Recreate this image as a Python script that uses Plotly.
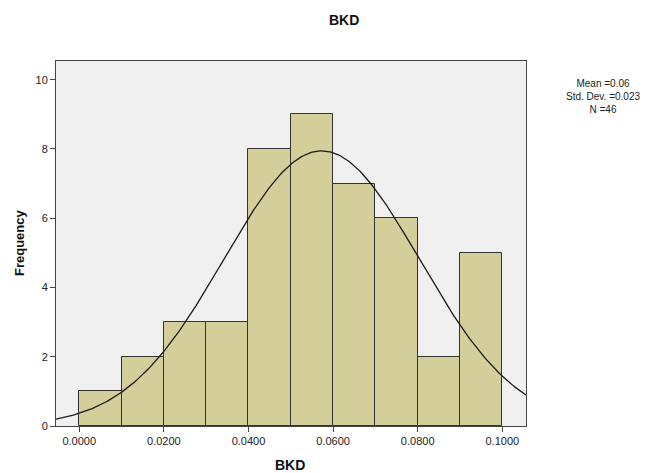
import numpy as np
import plotly.graph_objects as go

bin_starts = [0.00, 0.01, 0.02, 0.03, 0.04, 0.05, 0.06, 0.07, 0.08, 0.09]
bin_width = 0.01
counts = [1, 2, 3, 3, 8, 9, 7, 6, 2, 5]
mean_val = 0.0573
std_val = 0.0231
n_val = 46
x_ticks = [0.0, 0.02, 0.04, 0.06, 0.08, 0.10]
x_tick_labels = ["0.0000", "0.0200", "0.0400", "0.0600", "0.0800", "0.1000"]
y_ticks = [0, 2, 4, 6, 8, 10]
stat_lines = ["Mean =0.06", "Std. Dev. =0.023", f"N ={n_val}"]

font = "Liberation Sans, Arial, sans-serif"
W, H = 652, 473
L, R, T, B = 56, 126, 61, 47
pw, ph = W - L - R, H - T - B

def px(x):
    return (x - L) / pw

def py(y):
    return (H - B - y) / ph

centers = [s + bin_width / 2 for s in bin_starts]
fig = go.Figure()
fig.add_trace(go.Bar(
    x=centers, y=counts, width=[bin_width] * len(counts),
    marker=dict(color="#D3CE9A", line=dict(color="#333333", width=1)),
    showlegend=False, hoverinfo="skip"))

xs = np.linspace(-0.0055, 0.1056, 300)
ys = n_val * bin_width / (std_val * np.sqrt(2 * np.pi)) * np.exp(-0.5 * ((xs - mean_val) / std_val) ** 2)
fig.add_trace(go.Scatter(x=xs, y=ys, mode="lines", line=dict(color="#1a1a1a", width=1.3),
                         showlegend=False, hoverinfo="skip"))

annotations = [
    dict(x=px(344), y=py(20), xref="paper", yref="paper", showarrow=False,
         text="<b>BKD</b>", font=dict(size=14, color="#111"),
         xanchor="center", yanchor="middle"),
    dict(x=px(290), y=py(465), xref="paper", yref="paper", showarrow=False,
         text="<b>BKD</b>", font=dict(size=14, color="#111"),
         xanchor="center", yanchor="middle"),
    dict(x=px(20), y=py(243), xref="paper", yref="paper", showarrow=False,
         text="<b>Frequency</b>", font=dict(size=13, color="#111"), textangle=-90,
         xanchor="center", yanchor="middle"),
    dict(x=px(603), y=py(96), xref="paper", yref="paper", showarrow=False,
         text="<br>".join(stat_lines), font=dict(size=10, color="#222"), align="center",
         xanchor="center", yanchor="middle"),
]

fig.update_layout(
    width=W, height=H,
    margin=dict(l=L, r=R, t=T, b=B, autoexpand=False),
    paper_bgcolor="white", plot_bgcolor="#F0F0F0",
    bargap=0,
    font=dict(family=font, size=11, color="#222"),
    xaxis=dict(range=[-0.0055, 0.1056], tickvals=x_ticks, ticktext=x_tick_labels,
               ticks="outside", ticklen=5, tickcolor="#444", showgrid=False, zeroline=False,
               showline=True, linecolor="#444", linewidth=1, mirror=True, automargin=False,
               tickfont=dict(size=11, color="#222")),
    yaxis=dict(range=[0, 10.54], tickvals=y_ticks, ticks="outside", ticklen=5, tickcolor="#444",
               showgrid=False, zeroline=False, showline=True, linecolor="#444", linewidth=1,
               mirror=True, automargin=False,
               tickfont=dict(size=11, color="#222")),
    annotations=annotations,
)
fig.write_html("out.html", config={"displayModeBar": False},
               post_script="document.body.style.margin='0';document.body.style.overflow='hidden';")
